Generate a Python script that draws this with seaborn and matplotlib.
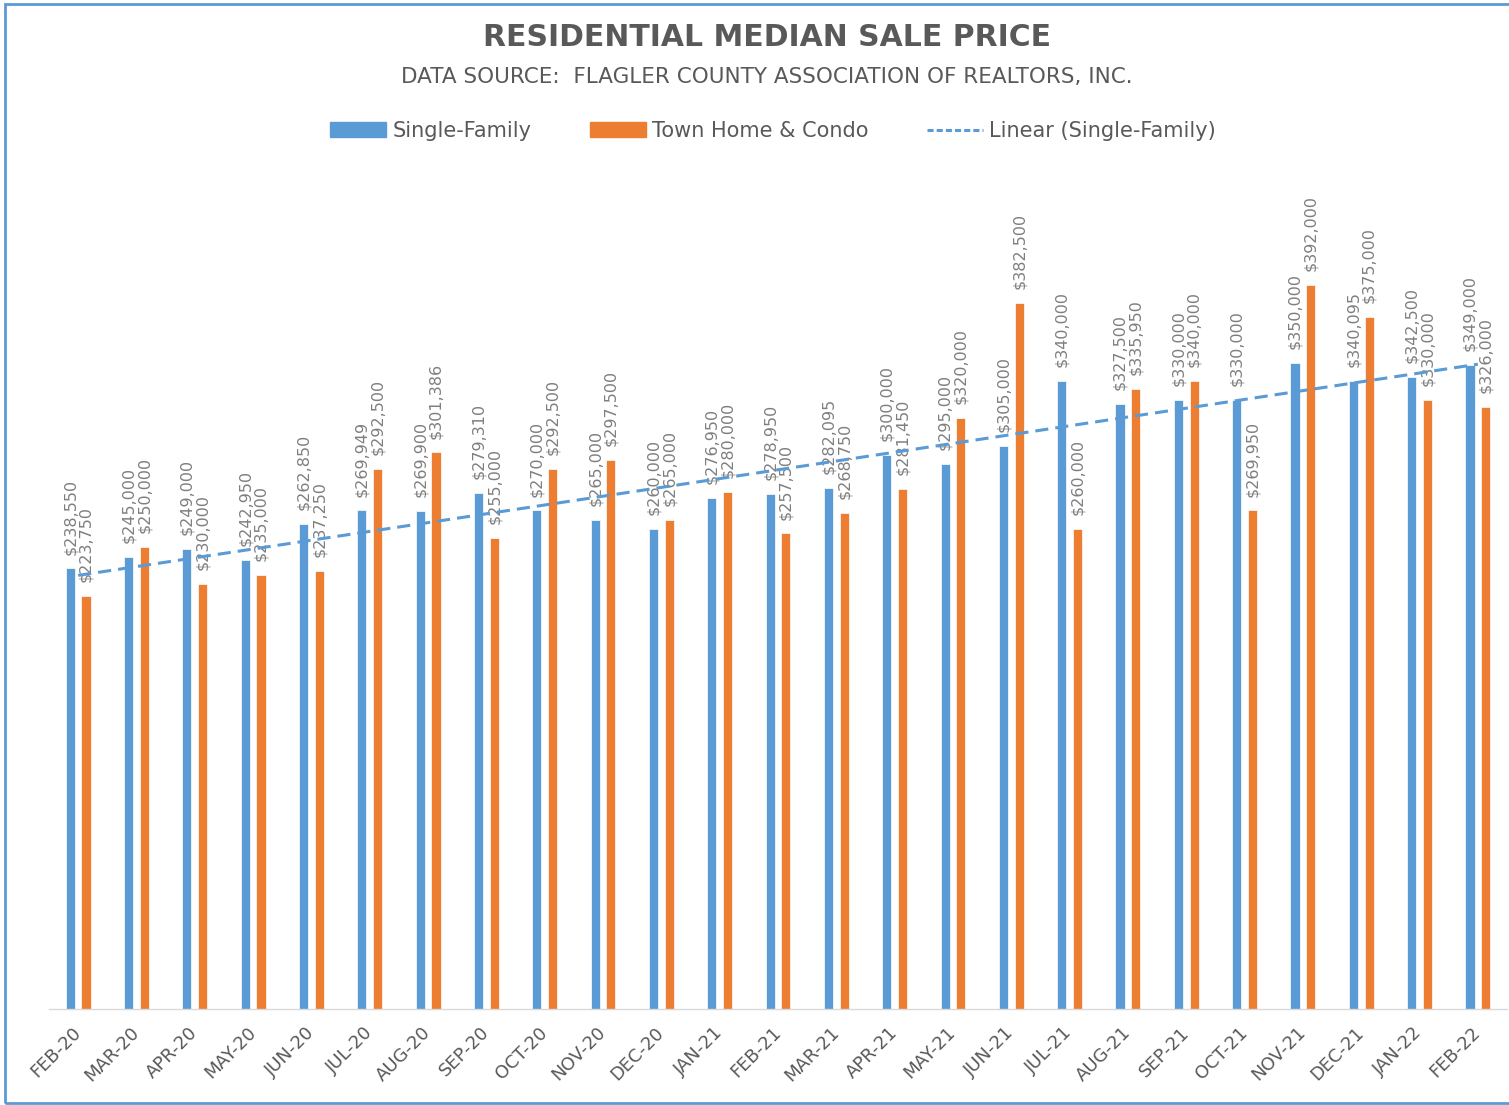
import numpy as np
import pandas as pd
import seaborn as sns
import matplotlib.pyplot as plt
from matplotlib.patches import Patch, Rectangle
from matplotlib.lines import Line2D

# data
months = ['FEB-20', 'MAR-20', 'APR-20', 'MAY-20', 'JUN-20', 'JUL-20', 'AUG-20',
          'SEP-20', 'OCT-20', 'NOV-20', 'DEC-20', 'JAN-21', 'FEB-21', 'MAR-21',
          'APR-21', 'MAY-21', 'JUN-21', 'JUL-21', 'AUG-21', 'SEP-21', 'OCT-21',
          'NOV-21', 'DEC-21', 'JAN-22', 'FEB-22']
single_family = [238550, 245000, 249000, 242950, 262850, 269949, 269900,
                 279310, 270000, 265000, 260000, 276950, 278950, 282095,
                 300000, 295000, 305000, 340000, 327500, 330000, 330000,
                 350000, 340095, 342500, 349000]
town_condo = [223750, 250000, 230000, 235000, 237250, 292500, 301386,
              255000, 292500, 297500, 265000, 280000, 257500, 268750,
              281450, 320000, 382500, 260000, 335950, 340000, 269950,
              392000, 375000, 330000, 326000]
series_names = ['Single-Family', 'Town Home & Condo']

BLUE = '#5B9BD5'
ORANGE = '#ED7D31'
DARK = '#595959'
LABEL = '#7F7F7F'

sns.set_theme(style='white')
plt.rcParams['font.family'] = ['DejaVu Sans']

n = len(months)
df = pd.DataFrame({
    'month': months * 2,
    'price': single_family + town_condo,
    'type': [series_names[0]] * n + [series_names[1]] * n,
})

W, H = 1509, 1105
fig = plt.figure(figsize=(W / 100, H / 100), dpi=100)
ax = fig.add_axes([49 / W, 1 - 1009 / H, 1458 / W, 831 / H])

sns.barplot(data=df, x='month', y='price', hue='type', order=months,
            hue_order=series_names, palette=[BLUE, ORANGE], width=0.54,
            gap=0.42, legend=False, ax=ax, saturation=1, edgecolor='white',
            linewidth=0.5)

# value labels
for cont, vals in zip(ax.containers, [single_family, town_condo]):
    ax.bar_label(cont, labels=[f'${v:,.0f}' for v in vals], rotation=90,
                 padding=10, fontsize=11.5, color=LABEL)

# linear trendline for single-family
x = np.arange(n)
coef = np.polyfit(x, single_family, 1)
ax.plot(x, np.polyval(coef, x), color=BLUE, lw=2.2,
        linestyle=(0, (4.3, 2.3)), zorder=5)

ax.set_xlim(-0.5, n - 0.5)
ax.set_ylim(0, 450000)
ax.set_yticks([])
ax.set_xlabel('')
ax.set_ylabel('')
for s in ['left', 'right', 'top']:
    ax.spines[s].set_visible(False)
ax.spines['bottom'].set_color('#D9D9D9')
ax.spines['bottom'].set_linewidth(1)
ax.tick_params(axis='x', length=0, pad=15)
ax.set_xticks(range(n))
ax.set_xticklabels(months, rotation=45, ha='right', va='center',
                   rotation_mode='anchor', fontsize=13, color=DARK)

fig.text(767 / W, 1 - 38 / H, 'RESIDENTIAL MEDIAN SALE PRICE', ha='center',
         va='center', fontsize=21.5, fontweight='bold', color=DARK)
fig.text(767 / W, 1 - 77 / H,
         'DATA SOURCE:  FLAGLER COUNTY ASSOCIATION OF REALTORS, INC.',
         ha='center', va='center', fontsize=15.5, color=DARK)

handles = [Patch(color=BLUE, label=series_names[0]),
           Patch(color=ORANGE, label=series_names[1]),
           Line2D([], [], color=BLUE, lw=2.2, linestyle=(0, (2, 1)),
                  label='Linear (Single-Family)')]
leg = fig.legend(handles=handles, loc='center',
                 bbox_to_anchor=(773 / W, 1 - 131 / H), ncol=3, frameon=False,
                 fontsize=15, handlelength=2.7, handletextpad=0.3,
                 columnspacing=2.8)
for t in leg.get_texts():
    t.set_color(DARK)

# chart border
fig.add_artist(Rectangle((5 / W, 2 / H), 1.2, 1099 / H,
                         transform=fig.transFigure, fill=False,
                         edgecolor=BLUE, lw=2))

fig.savefig('out.png', dpi=100)
